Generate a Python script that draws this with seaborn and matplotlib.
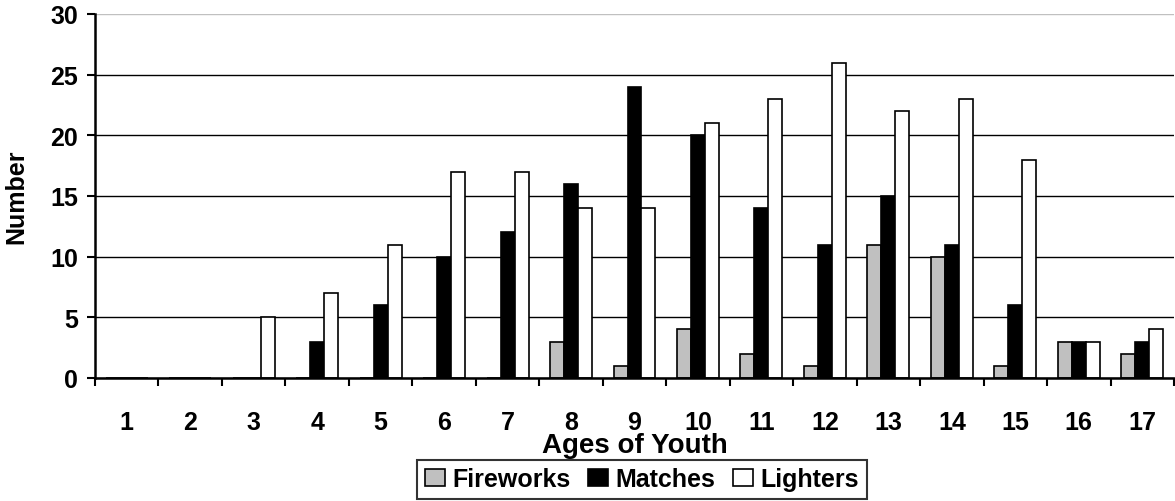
import numpy as np
import pandas as pd
import matplotlib
matplotlib.use("Agg")
import matplotlib.pyplot as plt
import seaborn as sns

# Data
ages = [str(a) for a in range(1, 18)]
fireworks = [0, 0, 0, 0, 0, 0, 0, 3, 1, 4, 2, 1, 11, 10, 1, 3, 2]
matches = [0, 0, 0, 3, 6, 10, 12, 16, 24, 20, 14, 11, 15, 11, 6, 3, 3]
lighters = [0, 0, 5, 7, 11, 17, 17, 14, 14, 21, 23, 26, 22, 23, 18, 3, 4]
series = ["Fireworks", "Matches", "Lighters"]
colors = {"Fireworks": "#c0c0c0", "Matches": "black", "Lighters": "white"}

df = pd.DataFrame({"age": ages * 3,
                   "count": fireworks + matches + lighters,
                   "type": np.repeat(series, len(ages))})

sns.set_style("ticks")
plt.rcParams["font.family"] = ["Liberation Sans", "DejaVu Sans"]
plt.rcParams["font.weight"] = "bold"
for k in ["text.color", "axes.labelcolor", "xtick.color", "ytick.color", "axes.edgecolor"]:
    plt.rcParams[k] = "black"

fig = plt.figure(figsize=(11.75, 5.02), dpi=100)
ax = fig.add_axes([95 / 1175, 1 - 379 / 502, 1079 / 1175, 364 / 502])

sns.barplot(data=df, x="age", y="count", hue="type", hue_order=series,
            palette=colors, width=0.66, edgecolor="black", linewidth=1.2,
            saturation=1, errorbar=None, ax=ax)

# Axes styling
ax.set_ylim(0, 30)
ax.set_xlim(-0.5, 16.5)
ax.set_yticks(range(0, 31, 5))
ax.grid(axis="y", color="black", linewidth=1)
ax.set_axisbelow(True)
ax.get_ygridlines()[-1].set_color("#c0c0c0")
for s in ["top", "right"]:
    ax.spines[s].set_visible(False)
for s in ["left", "bottom"]:
    ax.spines[s].set_linewidth(1.8)

ax.tick_params(axis="y", length=6, width=1.5, pad=6, labelsize=18)
ax.tick_params(axis="x", which="major", length=0, pad=23, labelsize=18)
ax.set_xticks(np.arange(-0.5, 17, 1), minor=True)
ax.tick_params(axis="x", which="minor", length=6, width=1.5)
for lab in ax.get_xticklabels() + ax.get_yticklabels():
    lab.set_fontweight("bold")

ax.set_xlabel("Ages of Youth", fontsize=20, fontweight="bold")
ax.xaxis.set_label_coords(0.5, -0.148)
ax.set_ylabel("Number", fontsize=18, fontweight="bold")
ax.yaxis.set_label_coords(-0.062, 0.5)

handles, labels = ax.get_legend_handles_labels()
ax.get_legend().remove()
leg = fig.legend(handles, labels, loc="upper center",
                 bbox_to_anchor=(642 / 1175, 1 - 461 / 502), ncol=3,
                 fontsize=18, frameon=True, fancybox=False,
                 handlelength=0.8, handleheight=0.65, handletextpad=0.3,
                 columnspacing=0.7, borderpad=0.3, borderaxespad=0)
leg.get_frame().set_edgecolor("black")
leg.get_frame().set_linewidth(1.5)
for t in leg.get_texts():
    t.set_fontweight("bold")

plt.savefig("out.png", dpi=100)
